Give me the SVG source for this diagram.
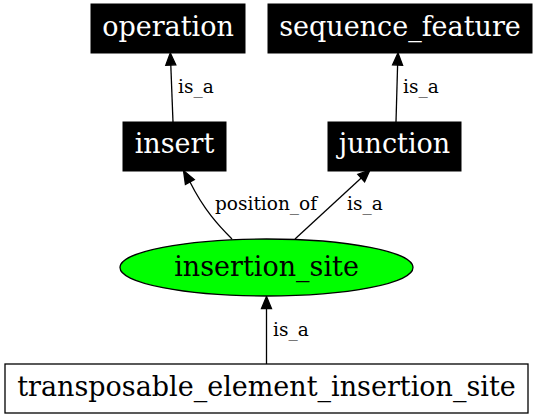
<svg xmlns="http://www.w3.org/2000/svg" width="536" height="419" viewBox="0 0 536 419">
<style>
.nt{font-family:"DejaVu Serif",serif;font-size:27px;text-anchor:middle}
.el{font-family:"DejaVu Serif",serif;font-size:18.5px}
.blk rect{fill:#000;stroke:#000}
.blk text{fill:#fff}
.edge path{fill:none;stroke:#000;stroke-width:1.3}
.edge polygon{fill:#000;stroke:#000;stroke-width:1.3}
</style>
<rect width="536" height="419" fill="#fff"/>
<g id="edges" class="edge">
<path d="M173,122 L170.8,65"/>
<polygon points="165.8,65.2 170.3,53 175.8,64.8"/>
<text class="el" x="178" y="93">is_a</text>
<path d="M396,122 L397.6,65"/>
<polygon points="392.6,64.8 398,53 402.6,65.2"/>
<text class="el" x="403" y="93">is_a</text>
<path d="M232,239 C219,226 204,210 190,182"/>
<polygon points="185.4,184.4 183.5,170.5 194.3,179.6"/>
<text class="el" x="215" y="210">position_of</text>
<path d="M295,239 L361.2,178.1"/>
<polygon points="357.8,174.4 370,170 364.6,181.8"/>
<text class="el" x="347" y="210">is_a</text>
<path d="M266.5,364 L266.5,308.5"/>
<polygon points="261.5,308.5 266.5,296.5 271.5,308.5"/>
<text class="el" x="273" y="336">is_a</text>
</g>
<g id="operation" class="blk">
<rect x="91" y="4" width="154" height="49"/>
<text class="nt" x="168" y="36">operation</text>
</g>
<g id="sequence_feature" class="blk">
<rect x="268" y="4" width="264" height="49"/>
<text class="nt" x="400" y="36">sequence_feature</text>
</g>
<g id="insert" class="blk">
<rect x="123" y="122" width="103" height="49"/>
<text class="nt" x="174.5" y="153">insert</text>
</g>
<g id="junction" class="blk">
<rect x="328" y="122" width="133" height="49"/>
<text class="nt" x="394.5" y="153">junction</text>
</g>
<g id="insertion_site">
<ellipse cx="266.5" cy="267.5" rx="146.5" ry="28.5" fill="#00ff00" stroke="#000" stroke-width="1.3"/>
<text class="nt" x="266.5" y="276">insertion_site</text>
</g>
<g id="transposable_element_insertion_site">
<rect x="5" y="364" width="523" height="49" fill="#fff" stroke="#000" stroke-width="1.3"/>
<text class="nt" x="266.5" y="396">transposable_element_insertion_site</text>
</g>
</svg>
